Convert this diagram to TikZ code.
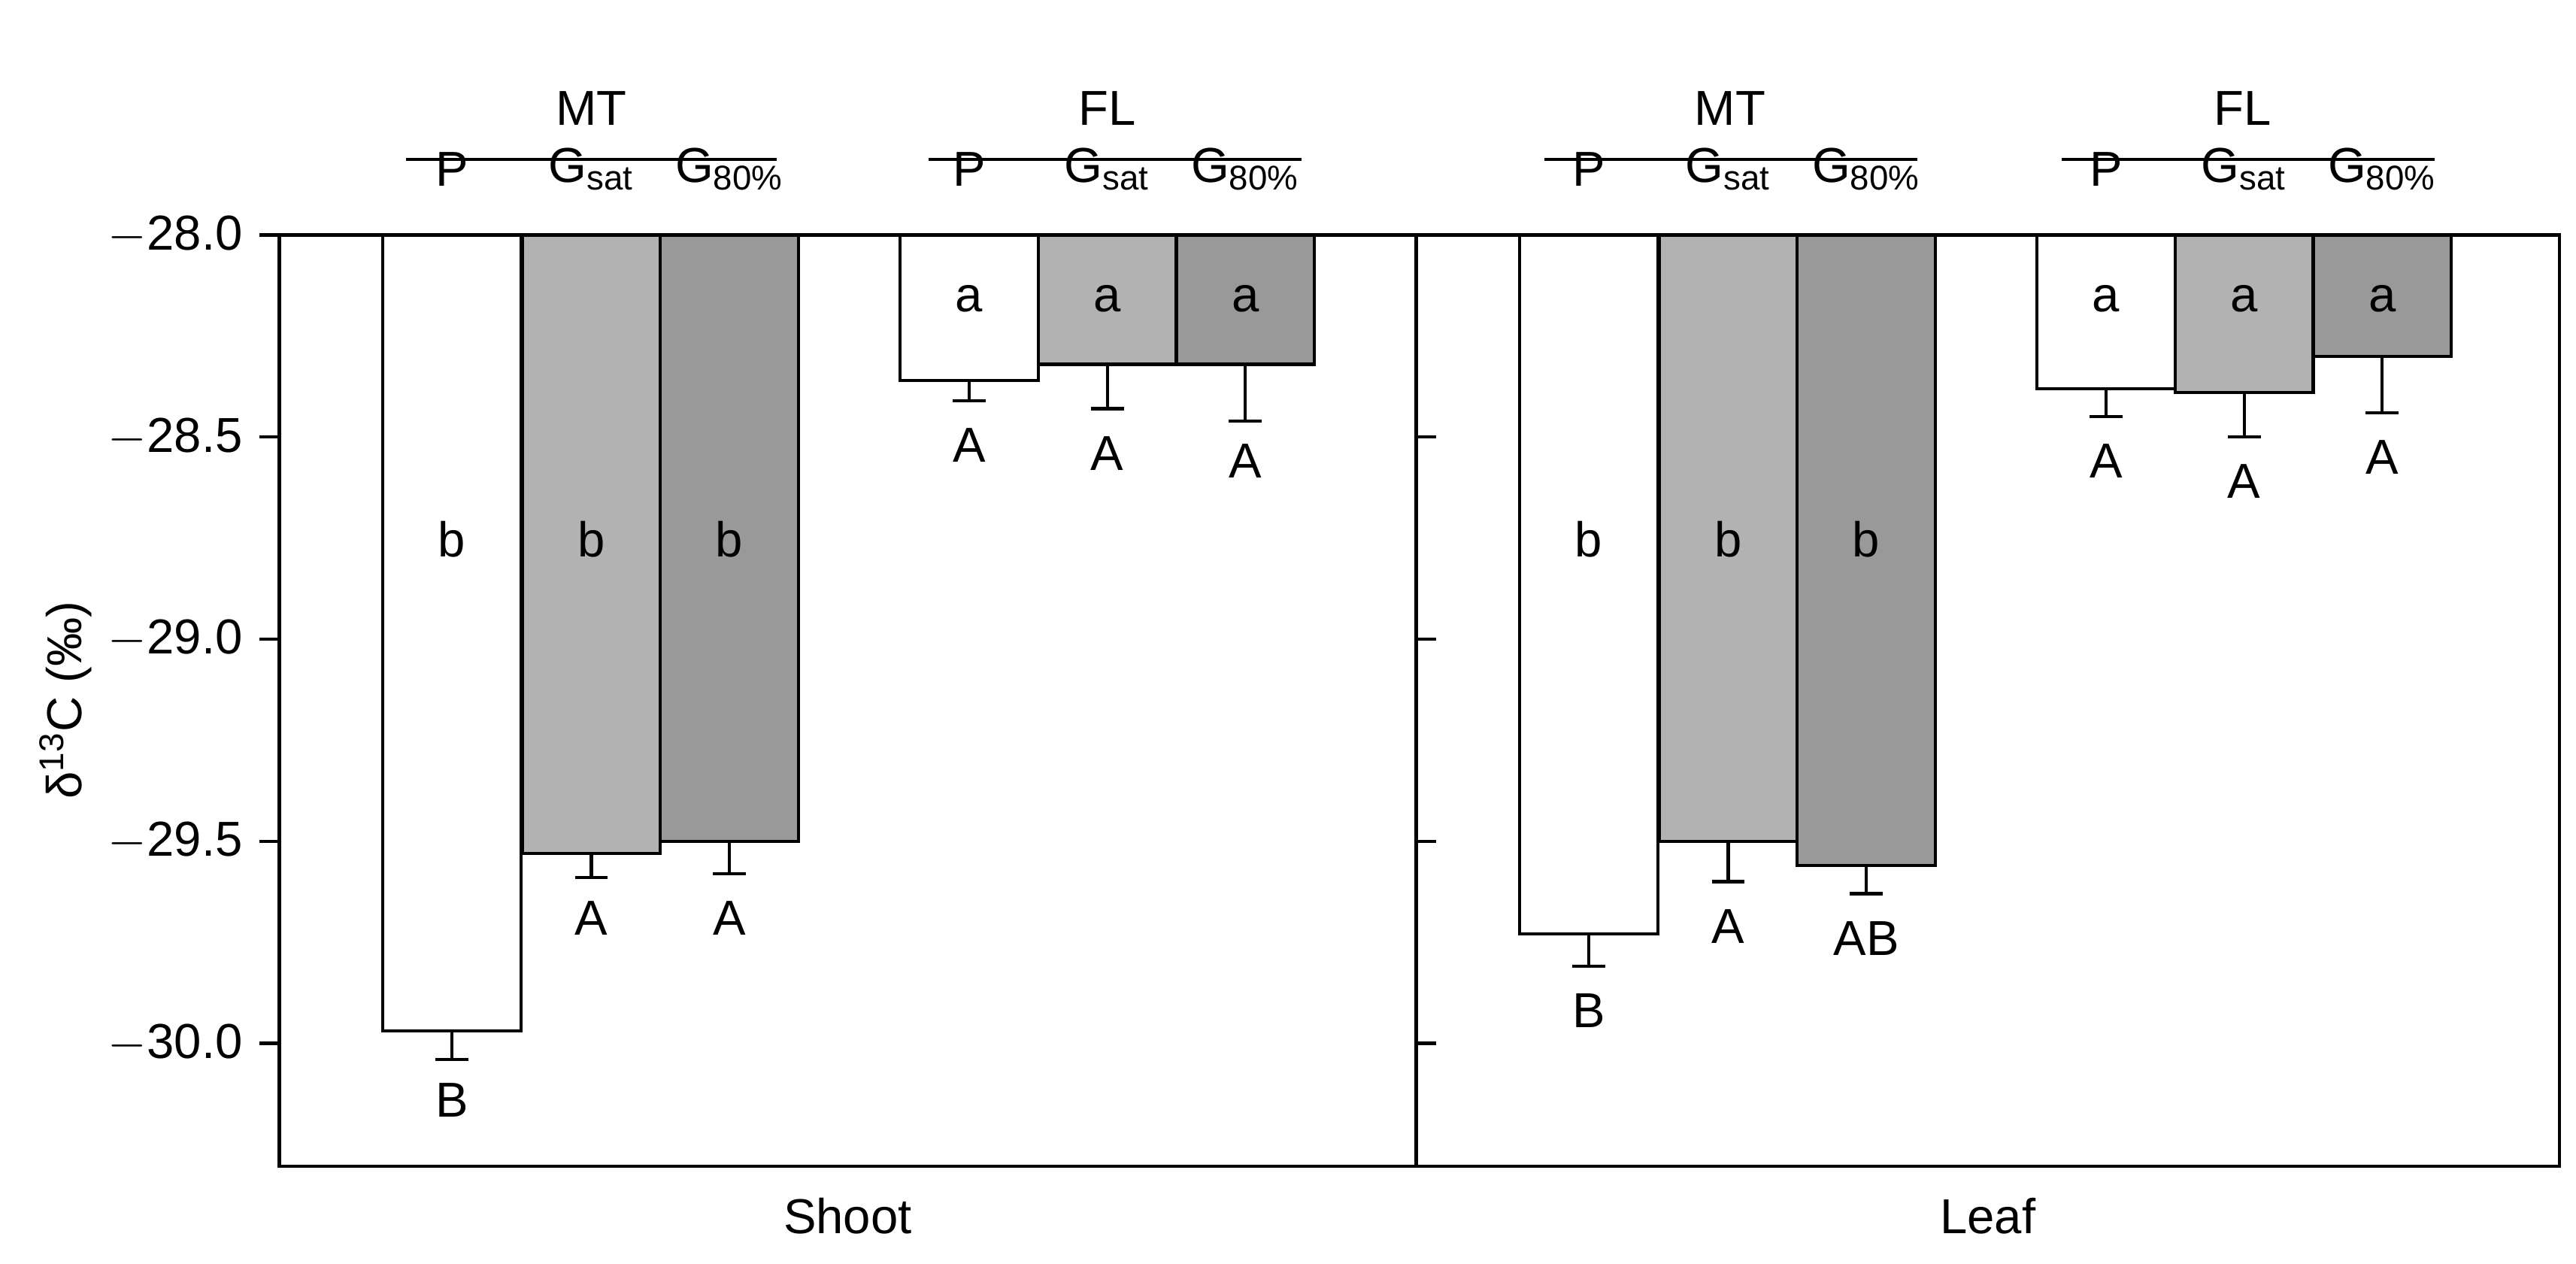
\documentclass[tikz,border=0pt]{standalone}
\usepackage{fontspec}
\setmainfont{Liberation Sans}
\begin{document}
\begin{tikzpicture}[x=0.02cm,y=0.02cm,
  lbl/.style={font=\fontsize{17}{20}\selectfont,inner sep=0},
  barw/.style={draw=black,line width=1.1pt},
  ax/.style={line width=1.1pt}]
\useasboundingbox (0,0) rectangle (1568,-769);
\def\Y#1{{-(143+(-28-(#1))*246)}}
% bars: left x / value / error end / fill / inside letter / lower letter
\foreach \xl/\v/\e/\col/\il/\ll/\ly [count=\i] in {
 233/-29.97/-30.04/white/b/B/-30.14,
 318/-29.53/-29.59/gray!60/b/A/-29.69,
 402/-29.50/-29.58/gray!80/b/A/-29.69,
 548/-28.36/-28.41/white/a/A/-28.52,
 632/-28.32/-28.43/gray!60/a/A/-28.54,
 716/-28.32/-28.46/gray!80/a/A/-28.56,
 925/-29.73/-29.81/white/b/B/-29.92,
 1010/-29.50/-29.60/gray!60/b/A/-29.71,
 1094/-29.56/-29.63/gray!80/b/AB/-29.74,
 1240/-28.38/-28.45/white/a/A/-28.56,
 1324/-28.39/-28.50/gray!60/a/A/-28.61,
 1408/-28.30/-28.44/gray!80/a/A/-28.55}{
  \pgfmathsetmacro\xc{\xl+42}
  \pgfmathsetmacro\ya{\Y{\v}}
  \pgfmathsetmacro\yb{\Y{\e}}
  \pgfmathsetmacro\yl{\Y{\ly}}
  \pgfmathsetmacro\yi{\v<-29?-328:-182}
  \coordinate (bt\i) at (\xc,\ya);
  \coordinate (eb\i) at (\xc,\yb);
  \draw[line width=1.1pt] (bt\i) -- (eb\i) ++(-10,0) -- ++(20,0);
  \filldraw[barw,fill=\col] (\xl,-143) rectangle (\xl+84,\ya);
  \node[lbl] (in\i) at (\xc,\yi) {\il};
  \node[lbl] (lo\i) at (\xc,\yl) {\ll};
  \pgfmathsetmacro\sub{mod(\i-1,3)}
  \ifcase\sub\relax
    \node[lbl] (hd\i) at (\xc,-103) {P};
  \or
    \node[lbl] (hd\i) at (\xc,-103) {G\textsubscript{sat}};
  \or
    \node[lbl] (hd\i) at (\xc,-103) {G\textsubscript{80\%}};
  \fi
}
% frame
\draw[ax] (170,-143) rectangle (1558,-710);
\draw[ax] (862,-143) -- (862,-710);
\foreach \v/\t in {-28.0/$-$28.0,-28.5/$-$28.5,-29.0/$-$29.0,-29.5/$-$29.5,-30.0/$-$30.0}{
  \pgfmathsetmacro\yy{\Y{\v}}
  \draw[ax] (170,\yy) -- (158,\yy);
  \draw[ax] (862,\yy) -- (874,\yy);
  \node[lbl,anchor=east] at (148,\yy) {\t};
}
% group headers
\foreach \c/\a/\b/\t/\n in {360/247/473/MT/g1,674/565/792/FL/g2,1053/940/1167/MT/g3,1365/1255/1482/FL/g4}{
  \node[lbl] (\n) at (\c,-66) {\t};
  \draw[line width=1.1pt] (\a,-97) -- (\b,-97);
}
\node[lbl] (shoot) at (516,-740) {Shoot};
\node[lbl] (leaf) at (1210,-740) {Leaf};
\node[lbl,rotate=90] (ylab) at (40,-426) {δ\textsuperscript{13}C (‰)};
\end{tikzpicture}
\end{document}
